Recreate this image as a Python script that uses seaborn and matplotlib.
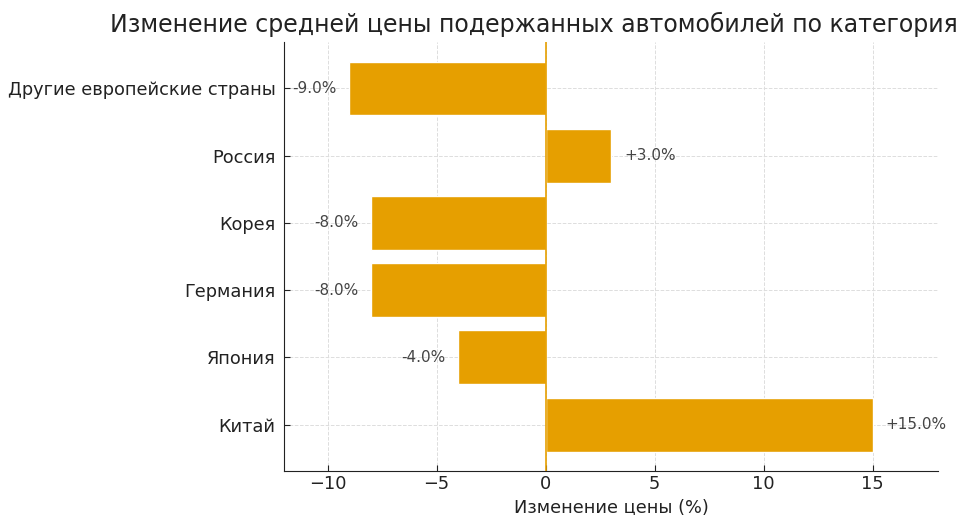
import matplotlib
matplotlib.use('Agg')
import matplotlib.pyplot as plt
import seaborn as sns
import pandas as pd

# Data
categories = ['Китай', 'Япония', 'Германия', 'Корея', 'Россия', 'Другие европейские страны']
changes = [15.0, -4.0, -8.0, -8.0, 3.0, -9.0]

df = pd.DataFrame({'category': categories, 'change': changes})
bar_color = '#E69F00'

sns.set_style('white')
plt.rcParams['font.family'] = ['DejaVu Sans']

fig = plt.figure(figsize=(9.59, 5.15), dpi=100)
ax = fig.add_axes([284 / 959, 1 - 471 / 515, (938 - 284) / 959, (471 - 42) / 515])

# seaborn draws the first category at the top, so reverse to match the reference
order = categories[::-1]
sns.barplot(data=df, y='category', x='change', order=order, orient='h',
            color=bar_color, saturation=1, width=0.8, ax=ax, zorder=2)
ax.axvline(0, color=bar_color, linewidth=1.2, zorder=3)

for i, cat in enumerate(order):
    v = df.loc[df['category'] == cat, 'change'].iloc[0]
    if v >= 0:
        ax.text(v + 0.6, i, f'+{v:.1f}%', va='center', ha='left', fontsize=11, color='#444444')
    else:
        ax.text(v - 0.6, i, f'{v:.1f}%', va='center', ha='right', fontsize=11, color='#444444')

ax.set_xlim(-12, 18)
ax.set_ylim(len(order) - 0.31, -0.69)
ax.set_xticks([-10, -5, 0, 5, 10, 15])
ax.grid(True, linestyle='--', color='#dddddd', linewidth=0.7, zorder=0)
ax.set_axisbelow(True)
for side in ['top', 'right']:
    ax.spines[side].set_visible(False)
ax.spines['left'].set_color('#222222')
ax.spines['bottom'].set_color('#222222')
ax.tick_params(axis='both', labelsize=12.8, length=4, direction='in', pad=3,
               left=True, bottom=True, colors='#222222')
ax.tick_params(axis='y', pad=6)
ax.set_ylabel('')
ax.set_xlabel('Изменение цены (%)', fontsize=12.8, color='#222222', labelpad=4)

# the title runs past the right edge in the reference as well
fig.text(110 / 959, 1 - 24 / 515,
         'Изменение средней цены подержанных автомобилей по категориям стран',
         fontsize=17, color='#222222', ha='left', va='center')

fig.savefig('out.png', dpi=100)
